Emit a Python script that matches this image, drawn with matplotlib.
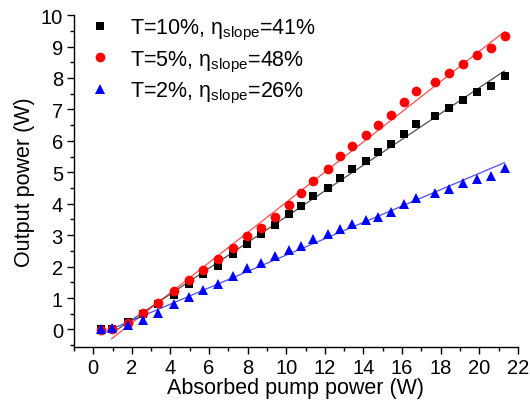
import matplotlib
matplotlib.use("Agg")
import matplotlib.pyplot as plt
import numpy as np
from matplotlib.ticker import MultipleLocator

plt.rcParams['font.family'] = ['Liberation Sans', 'DejaVu Sans']
plt.rcParams['mathtext.default'] = 'regular'

# Absorbed pump power (W)
pump = [0.38, 0.98, 1.78, 2.56, 3.37, 4.18, 4.94, 5.70, 6.48, 7.22,
        7.98, 8.67, 9.41, 10.12, 10.76, 11.40, 12.14, 12.78, 13.42, 14.13,
        14.77, 15.41, 16.10, 16.70, 17.70, 18.43, 19.17, 19.90, 20.59, 21.33]

# Output power (W) for each output-coupler transmission
out_t10 = [0.00, 0.02, 0.23, 0.50, 0.80, 1.11, 1.43, 1.75, 2.02, 2.39,
           2.73, 3.03, 3.32, 3.66, 3.93, 4.23, 4.51, 4.81, 5.10, 5.36,
           5.63, 5.89, 6.23, 6.55, 6.79, 7.06, 7.29, 7.54, 7.73, 8.05]
out_t5 = [-0.02, 0.02, 0.22, 0.53, 0.85, 1.22, 1.57, 1.89, 2.25, 2.60,
          2.97, 3.22, 3.59, 3.96, 4.35, 4.72, 5.10, 5.52, 5.84, 6.18,
          6.50, 6.82, 7.24, 7.59, 7.86, 8.15, 8.44, 8.73, 8.95, 9.32]
out_t2 = [0.00, 0.03, 0.13, 0.29, 0.53, 0.80, 1.04, 1.25, 1.46, 1.70,
          1.94, 2.12, 2.33, 2.52, 2.65, 2.87, 3.05, 3.18, 3.34, 3.47,
          3.58, 3.72, 3.98, 4.18, 4.35, 4.48, 4.65, 4.78, 4.88, 5.13]

# Linear fits: slope efficiency, threshold (W), fit start (W)
labels = ['T=10%, η$_{slope}$=41%', 'T=5%, η$_{slope}$=48%', 'T=2%, η$_{slope}$=26%']
slopes = [0.41, 0.48, 0.26]
thresholds = [1.25, 1.57, 0.90]
fit_start = [0.95, 0.95, 0.40]
fit_end = 21.3

series = [out_t10, out_t5, out_t2]
colors = ['black', '#ff0000', '#0000ff']
markers = ['s', 'o', '^']
msizes = [6, 7, 7.5]

fig = plt.figure(figsize=(5.30, 4.02), dpi=100)
ax = fig.add_axes([0.1396, 0.135, 0.8374, 0.825])

for y, c, m, ms, lab, k, x0, xs in zip(series, colors, markers, msizes, labels,
                                       slopes, thresholds, fit_start):
    xf = np.array([xs, fit_end])
    ax.plot(xf, k * (xf - x0), color=c, lw=0.9, alpha=0.7, zorder=2)
    ax.plot(pump, y, linestyle='none', marker=m, color=c, ms=ms, label=lab,
            markeredgewidth=0, zorder=3)

ax.set_xlim(-1, 22)
ax.set_ylim(-0.55, 10)
ax.xaxis.set_major_locator(MultipleLocator(2))
ax.xaxis.set_minor_locator(MultipleLocator(1))
ax.yaxis.set_major_locator(MultipleLocator(1))
ax.yaxis.set_minor_locator(MultipleLocator(0.5))
ax.spines['top'].set_visible(False)
ax.spines['right'].set_visible(False)
for s in ['left', 'bottom']:
    ax.spines[s].set_linewidth(1.0)
ax.tick_params(which='major', direction='out', length=5, width=1.0,
               labelsize=14.5, pad=3)
ax.tick_params(which='minor', direction='out', length=3, width=1.0)

ax.set_xlabel('Absorbed pump power (W)', fontsize=15.5, labelpad=0)
ax.set_ylabel('Output power (W)', fontsize=15.5, labelpad=4)

leg = ax.legend(loc='upper left', bbox_to_anchor=(0.0, 1.04), frameon=False,
                fontsize=15.5, handletextpad=0.9, labelspacing=0.3,
                handlelength=1.0, borderaxespad=0.3)

fig.savefig('out.png', dpi=100)
